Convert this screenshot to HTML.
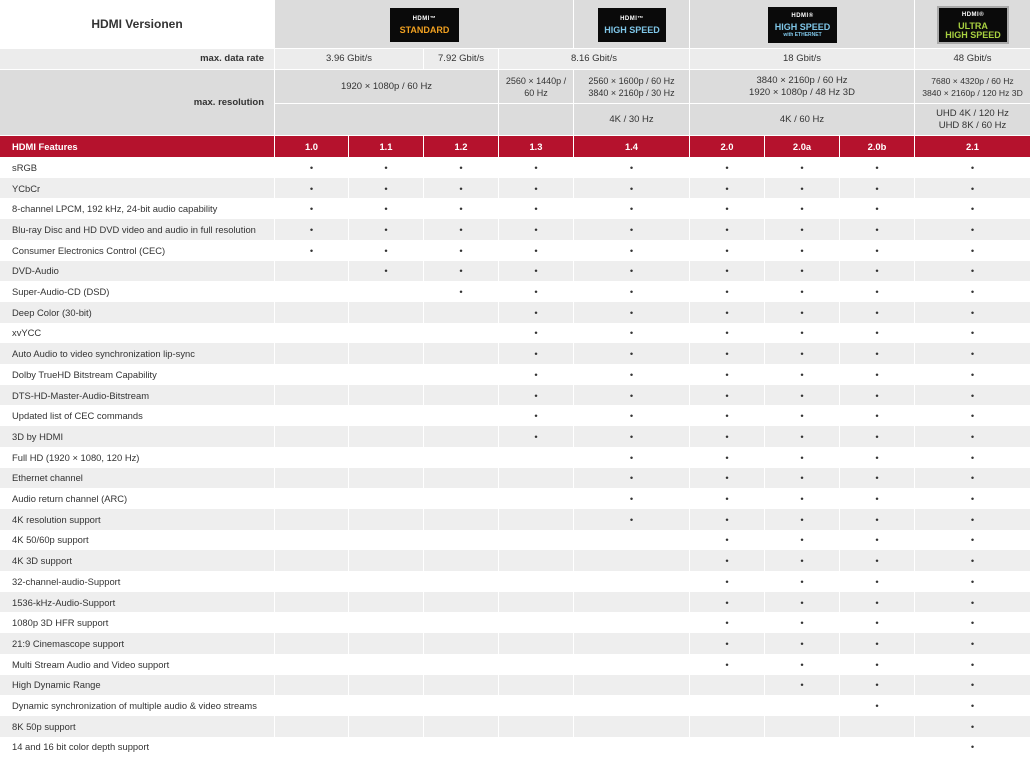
<!DOCTYPE html>
<html><head><meta charset="utf-8"><style>
*{box-sizing:border-box;margin:0;padding:0}
body{width:1031px;height:760px;background:#fff;font-family:"Liberation Sans",sans-serif;color:#333;position:relative;overflow:hidden}
.a{position:absolute;display:flex;align-items:center;justify-content:center;text-align:center;font-size:9.5px;line-height:12px;border-right:1px solid #fff;border-bottom:1px solid #fff}
.g1{background:#dcdcdc}.g2{background:#ececec}
.logo{background:#0a0a0a;color:#fff;font-weight:bold;display:flex;flex-direction:column;align-items:center;justify-content:center;position:absolute;font-size:9px;line-height:9px;text-align:center}
.logo b{font-size:6px;letter-spacing:0.5px;margin-bottom:2px}
.r{position:absolute;left:0;width:1031px;height:20.7px;display:flex}
.r>div{border-right:1px solid #fff;display:flex;align-items:center;justify-content:center;font-size:9.4px;height:100%;white-space:nowrap}
.r>div:first-child{justify-content:flex-start;padding-left:12px}
.r.gr{background:#eeeeee}
.red{background:#b5122d!important;color:#fff;font-weight:bold}
.c0{width:275px}.c1{width:74px}.c2,.c3,.c4,.c6,.c7,.c8{width:75px}.c5,.c9{width:116px}
</style></head><body>
<div class="a g1" style="left:0;top:0;width:275px;height:49px;background:#fff;font-weight:bold;font-size:12px">HDMI Versionen</div>
<div class="a g1" style="left:275px;top:0;width:299px;height:49px"></div>
<div class="a g1" style="left:574px;top:0;width:116px;height:49px"></div>
<div class="a g1" style="left:690px;top:0;width:225px;height:49px"></div>
<div class="a g1" style="left:915px;top:0;width:116px;height:49px"></div>
<div class="logo" style="left:390px;top:8px;width:69px;height:34px"><b>HDMI™</b><span style="color:#f0a020">STANDARD</span></div>
<div class="logo" style="left:598px;top:8px;width:68px;height:34px"><b>HDMI™</b><span style="color:#7fc6e8">HIGH SPEED</span></div>
<div class="logo" style="left:768px;top:7px;width:69px;height:36px"><b>HDMI®</b><span style="color:#7fc6e8">HIGH SPEED</span><span style="font-size:5px;line-height:6px;color:#7fc6e8">with ETHERNET</span></div>
<div class="logo" style="left:937px;top:6px;width:72px;height:38px;border:2px solid #aaa"><b>HDMI®</b><span style="color:#a8d040">ULTRA<br>HIGH SPEED</span></div>

<div class="a g2" style="left:0;top:49px;width:275px;height:21px;justify-content:flex-end;padding-right:10px;font-weight:bold">max. data rate</div>
<div class="a g2" style="left:275px;top:49px;width:149px;height:21px">3.96 Gbit/s</div>
<div class="a g2" style="left:424px;top:49px;width:75px;height:21px">7.92 Gbit/s</div>
<div class="a g2" style="left:499px;top:49px;width:191px;height:21px">8.16 Gbit/s</div>
<div class="a g2" style="left:690px;top:49px;width:225px;height:21px">18 Gbit/s</div>
<div class="a g2" style="left:915px;top:49px;width:116px;height:21px">48 Gbit/s</div>

<div class="a g1" style="left:0;top:70px;width:275px;height:66px;justify-content:flex-end;padding-right:10px;font-weight:bold">max. resolution</div>
<div class="a g1" style="left:275px;top:70px;width:224px;height:34px">1920 × 1080p / 60 Hz</div>
<div class="a g1" style="left:499px;top:70px;width:75px;height:34px;font-size:9px">2560 × 1440p /<br>60 Hz</div>
<div class="a g1" style="left:574px;top:70px;width:116px;height:34px;font-size:9px">2560 × 1600p / 60 Hz<br>3840 × 2160p / 30 Hz</div>
<div class="a g1" style="left:690px;top:70px;width:225px;height:34px">3840 × 2160p / 60 Hz<br>1920 × 1080p / 48 Hz 3D</div>
<div class="a g1" style="left:915px;top:70px;width:116px;height:34px;font-size:8.6px;white-space:nowrap">7680 × 4320p / 60 Hz<br>3840 × 2160p / 120 Hz 3D</div>
<div class="a g1" style="left:275px;top:104px;width:224px;height:32px"></div>
<div class="a g1" style="left:499px;top:104px;width:75px;height:32px"></div>
<div class="a g1" style="left:574px;top:104px;width:116px;height:32px">4K / 30 Hz</div>
<div class="a g1" style="left:690px;top:104px;width:225px;height:32px">4K / 60 Hz</div>
<div class="a g1" style="left:915px;top:104px;width:116px;height:32px">UHD 4K / 120 Hz<br>UHD 8K / 60 Hz</div>

<div class="r red" style="top:136px;height:21px"><div class="c0">HDMI Features</div><div class="c1">1.0</div><div class="c2">1.1</div><div class="c3">1.2</div><div class="c4">1.3</div><div class="c5">1.4</div><div class="c6">2.0</div><div class="c7">2.0a</div><div class="c8">2.0b</div><div class="c9">2.1</div></div>

<div class="r" style="top:157.0px"><div class="c0">sRGB</div><div class="c1">•</div><div class="c2">•</div><div class="c3">•</div><div class="c4">•</div><div class="c5">•</div><div class="c6">•</div><div class="c7">•</div><div class="c8">•</div><div class="c9">•</div></div>
<div class="r gr" style="top:177.7px"><div class="c0">YCbCr</div><div class="c1">•</div><div class="c2">•</div><div class="c3">•</div><div class="c4">•</div><div class="c5">•</div><div class="c6">•</div><div class="c7">•</div><div class="c8">•</div><div class="c9">•</div></div>
<div class="r" style="top:198.4px"><div class="c0">8-channel LPCM, 192 kHz, 24-bit audio capability</div><div class="c1">•</div><div class="c2">•</div><div class="c3">•</div><div class="c4">•</div><div class="c5">•</div><div class="c6">•</div><div class="c7">•</div><div class="c8">•</div><div class="c9">•</div></div>
<div class="r gr" style="top:219.1px"><div class="c0">Blu-ray Disc and HD DVD video and audio in full resolution</div><div class="c1">•</div><div class="c2">•</div><div class="c3">•</div><div class="c4">•</div><div class="c5">•</div><div class="c6">•</div><div class="c7">•</div><div class="c8">•</div><div class="c9">•</div></div>
<div class="r" style="top:239.8px"><div class="c0">Consumer Electronics Control (CEC)</div><div class="c1">•</div><div class="c2">•</div><div class="c3">•</div><div class="c4">•</div><div class="c5">•</div><div class="c6">•</div><div class="c7">•</div><div class="c8">•</div><div class="c9">•</div></div>
<div class="r gr" style="top:260.5px"><div class="c0">DVD-Audio</div><div class="c1"></div><div class="c2">•</div><div class="c3">•</div><div class="c4">•</div><div class="c5">•</div><div class="c6">•</div><div class="c7">•</div><div class="c8">•</div><div class="c9">•</div></div>
<div class="r" style="top:281.2px"><div class="c0">Super-Audio-CD (DSD)</div><div class="c1"></div><div class="c2"></div><div class="c3">•</div><div class="c4">•</div><div class="c5">•</div><div class="c6">•</div><div class="c7">•</div><div class="c8">•</div><div class="c9">•</div></div>
<div class="r gr" style="top:301.9px"><div class="c0">Deep Color (30-bit)</div><div class="c1"></div><div class="c2"></div><div class="c3"></div><div class="c4">•</div><div class="c5">•</div><div class="c6">•</div><div class="c7">•</div><div class="c8">•</div><div class="c9">•</div></div>
<div class="r" style="top:322.6px"><div class="c0">xvYCC</div><div class="c1"></div><div class="c2"></div><div class="c3"></div><div class="c4">•</div><div class="c5">•</div><div class="c6">•</div><div class="c7">•</div><div class="c8">•</div><div class="c9">•</div></div>
<div class="r gr" style="top:343.3px"><div class="c0">Auto Audio to video synchronization lip-sync</div><div class="c1"></div><div class="c2"></div><div class="c3"></div><div class="c4">•</div><div class="c5">•</div><div class="c6">•</div><div class="c7">•</div><div class="c8">•</div><div class="c9">•</div></div>
<div class="r" style="top:364.0px"><div class="c0">Dolby TrueHD Bitstream Capability</div><div class="c1"></div><div class="c2"></div><div class="c3"></div><div class="c4">•</div><div class="c5">•</div><div class="c6">•</div><div class="c7">•</div><div class="c8">•</div><div class="c9">•</div></div>
<div class="r gr" style="top:384.7px"><div class="c0">DTS-HD-Master-Audio-Bitstream</div><div class="c1"></div><div class="c2"></div><div class="c3"></div><div class="c4">•</div><div class="c5">•</div><div class="c6">•</div><div class="c7">•</div><div class="c8">•</div><div class="c9">•</div></div>
<div class="r" style="top:405.4px"><div class="c0">Updated list of CEC commands</div><div class="c1"></div><div class="c2"></div><div class="c3"></div><div class="c4">•</div><div class="c5">•</div><div class="c6">•</div><div class="c7">•</div><div class="c8">•</div><div class="c9">•</div></div>
<div class="r gr" style="top:426.1px"><div class="c0">3D by HDMI</div><div class="c1"></div><div class="c2"></div><div class="c3"></div><div class="c4">•</div><div class="c5">•</div><div class="c6">•</div><div class="c7">•</div><div class="c8">•</div><div class="c9">•</div></div>
<div class="r" style="top:446.8px"><div class="c0">Full HD (1920 × 1080, 120 Hz)</div><div class="c1"></div><div class="c2"></div><div class="c3"></div><div class="c4"></div><div class="c5">•</div><div class="c6">•</div><div class="c7">•</div><div class="c8">•</div><div class="c9">•</div></div>
<div class="r gr" style="top:467.5px"><div class="c0">Ethernet channel</div><div class="c1"></div><div class="c2"></div><div class="c3"></div><div class="c4"></div><div class="c5">•</div><div class="c6">•</div><div class="c7">•</div><div class="c8">•</div><div class="c9">•</div></div>
<div class="r" style="top:488.2px"><div class="c0">Audio return channel (ARC)</div><div class="c1"></div><div class="c2"></div><div class="c3"></div><div class="c4"></div><div class="c5">•</div><div class="c6">•</div><div class="c7">•</div><div class="c8">•</div><div class="c9">•</div></div>
<div class="r gr" style="top:508.9px"><div class="c0">4K resolution support</div><div class="c1"></div><div class="c2"></div><div class="c3"></div><div class="c4"></div><div class="c5">•</div><div class="c6">•</div><div class="c7">•</div><div class="c8">•</div><div class="c9">•</div></div>
<div class="r" style="top:529.6px"><div class="c0">4K 50/60p support</div><div class="c1"></div><div class="c2"></div><div class="c3"></div><div class="c4"></div><div class="c5"></div><div class="c6">•</div><div class="c7">•</div><div class="c8">•</div><div class="c9">•</div></div>
<div class="r gr" style="top:550.3px"><div class="c0">4K 3D support</div><div class="c1"></div><div class="c2"></div><div class="c3"></div><div class="c4"></div><div class="c5"></div><div class="c6">•</div><div class="c7">•</div><div class="c8">•</div><div class="c9">•</div></div>
<div class="r" style="top:571.0px"><div class="c0">32-channel-audio-Support</div><div class="c1"></div><div class="c2"></div><div class="c3"></div><div class="c4"></div><div class="c5"></div><div class="c6">•</div><div class="c7">•</div><div class="c8">•</div><div class="c9">•</div></div>
<div class="r gr" style="top:591.7px"><div class="c0">1536-kHz-Audio-Support</div><div class="c1"></div><div class="c2"></div><div class="c3"></div><div class="c4"></div><div class="c5"></div><div class="c6">•</div><div class="c7">•</div><div class="c8">•</div><div class="c9">•</div></div>
<div class="r" style="top:612.4px"><div class="c0">1080p 3D HFR support</div><div class="c1"></div><div class="c2"></div><div class="c3"></div><div class="c4"></div><div class="c5"></div><div class="c6">•</div><div class="c7">•</div><div class="c8">•</div><div class="c9">•</div></div>
<div class="r gr" style="top:633.1px"><div class="c0">21:9 Cinemascope support</div><div class="c1"></div><div class="c2"></div><div class="c3"></div><div class="c4"></div><div class="c5"></div><div class="c6">•</div><div class="c7">•</div><div class="c8">•</div><div class="c9">•</div></div>
<div class="r" style="top:653.8px"><div class="c0">Multi Stream Audio and Video support</div><div class="c1"></div><div class="c2"></div><div class="c3"></div><div class="c4"></div><div class="c5"></div><div class="c6">•</div><div class="c7">•</div><div class="c8">•</div><div class="c9">•</div></div>
<div class="r gr" style="top:674.5px"><div class="c0">High Dynamic Range</div><div class="c1"></div><div class="c2"></div><div class="c3"></div><div class="c4"></div><div class="c5"></div><div class="c6"></div><div class="c7">•</div><div class="c8">•</div><div class="c9">•</div></div>
<div class="r" style="top:695.2px"><div class="c0">Dynamic synchronization of multiple audio &amp; video streams</div><div class="c1"></div><div class="c2"></div><div class="c3"></div><div class="c4"></div><div class="c5"></div><div class="c6"></div><div class="c7"></div><div class="c8">•</div><div class="c9">•</div></div>
<div class="r gr" style="top:715.9px"><div class="c0">8K 50p support</div><div class="c1"></div><div class="c2"></div><div class="c3"></div><div class="c4"></div><div class="c5"></div><div class="c6"></div><div class="c7"></div><div class="c8"></div><div class="c9">•</div></div>
<div class="r" style="top:736.6px"><div class="c0">14 and 16 bit color depth support</div><div class="c1"></div><div class="c2"></div><div class="c3"></div><div class="c4"></div><div class="c5"></div><div class="c6"></div><div class="c7"></div><div class="c8"></div><div class="c9">•</div></div>
</body></html>
